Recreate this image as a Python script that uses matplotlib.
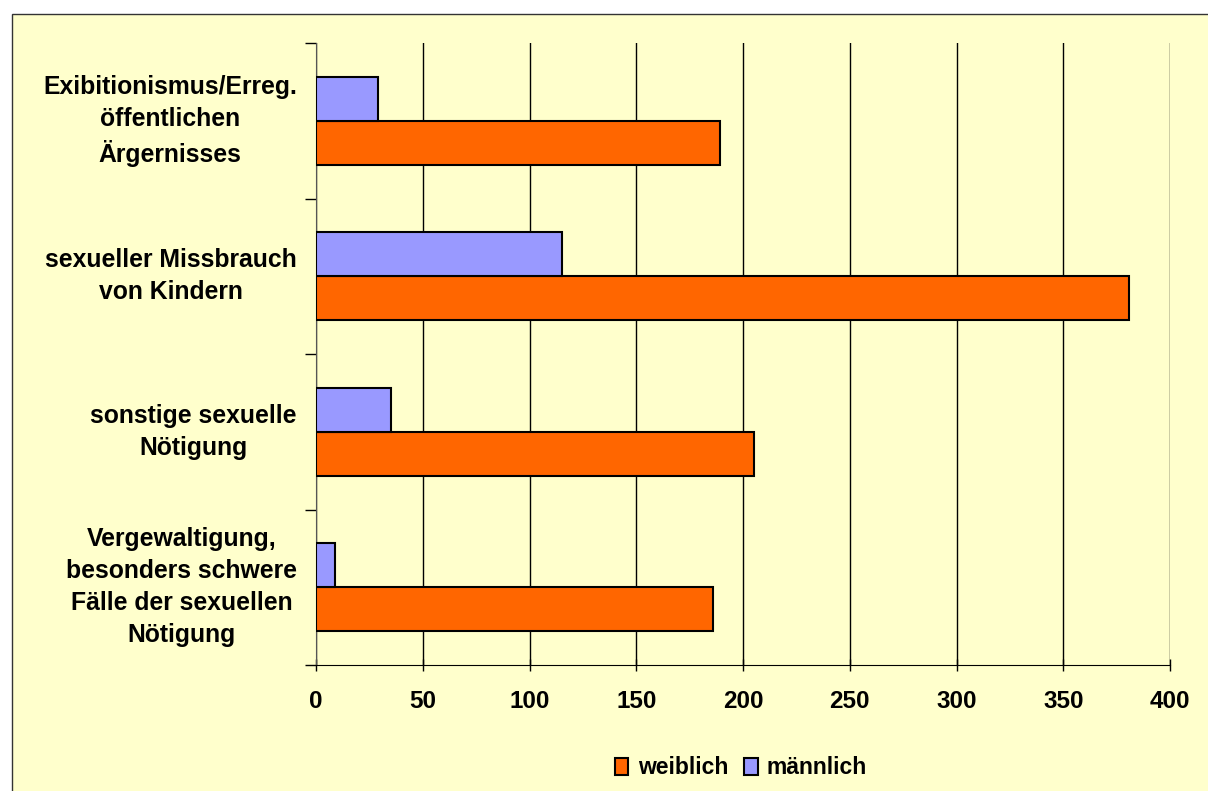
import matplotlib.pyplot as plt
import matplotlib.transforms as mtransforms
from matplotlib.patches import Rectangle
import numpy as np

# categories top to bottom
categories = ['Exibitionismus/Erreg.\nöffentlichen\nÄrgernisses',
              'sexueller Missbrauch\nvon Kindern',
              'sonstige sexuelle\nNötigung',
              'Vergewaltigung,\nbesonders schwere\nFälle der sexuellen\nNötigung']
weiblich = [189, 381, 205, 186]
maennlich = [29, 115, 35, 9]
xticks = [0, 50, 100, 150, 200, 250, 300, 350, 400]

plt.rcParams['font.family'] = ['Liberation Sans', 'DejaVu Sans']
plt.rcParams['font.weight'] = 'bold'

fig = plt.figure(figsize=(12.08, 7.91), dpi=100, facecolor='white')
# yellow chart area with border
bg = Rectangle((12/1208, -0.01), 1.0, 1 - 14/791 + 0.01, transform=fig.transFigure,
               facecolor='#FFFFCC', edgecolor='#333333', lw=1, zorder=-10)
fig.patches.append(bg)

ax = fig.add_axes([316/1208, 1 - 665/791, (1170-316)/1208, (665-43)/791])
ax.set_facecolor('none')

n = len(categories)
ypos = np.arange(n)[::-1] + 0.5   # top category highest
h = 0.283
ax.barh(ypos - h/2, weiblich, height=h, color='#FF6600', edgecolor='black', lw=1.5,
        label='weiblich', zorder=3)
ax.barh(ypos + h/2, maennlich, height=h, color='#9999FF', edgecolor='black', lw=1.5,
        label='männlich', zorder=3)

ax.set_xlim(0, 400)
ax.set_ylim(0, n)
ax.set_xticks(xticks)
ax.set_xticklabels([str(t) for t in xticks], fontsize=17.5, fontweight='bold')
ax.set_yticks(np.arange(n + 1))
ax.set_yticklabels([])
ax.tick_params(axis='x', length=8, width=1, pad=14, direction='inout')
ax.tick_params(axis='y', length=8, width=1, direction='out')
ax.grid(axis='x', color='black', lw=1, zorder=1)
for s in ['top', 'right']:
    ax.spines[s].set_visible(False)
ax.spines['left'].set_color('#555555')

trans = mtransforms.blended_transform_factory(fig.transFigure, ax.transData)
for y, lab in zip(ypos, categories):
    ax.text(297/1208, y, lab, transform=trans, ha='right', va='center',
            multialignment='center', fontsize=17.8, fontweight='bold', linespacing=1.42)

fig.legend(loc='center', bbox_to_anchor=(741/1208, 1 - 768/791), ncol=2, frameon=False,
           handlelength=0.6, handleheight=0.8, handletextpad=0.4,
           columnspacing=0.7, prop={'weight': 'bold', 'size': 16.5})

fig.savefig('out.png', dpi=100, facecolor='white')
